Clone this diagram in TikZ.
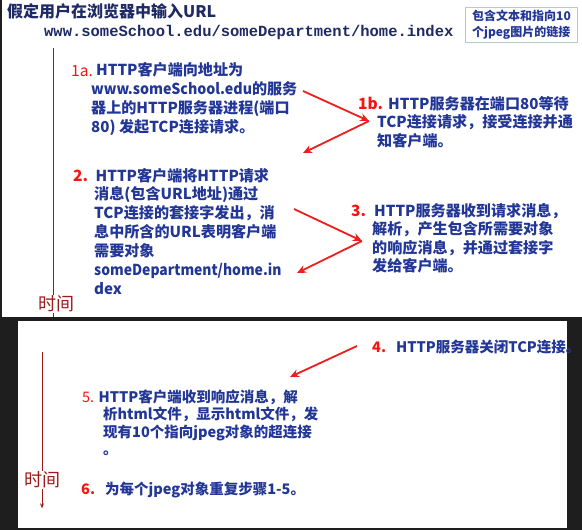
\documentclass[tikz,border=0pt]{standalone}
\usepackage{fontspec}
\setmainfont{Noto Sans CJK SC}
\newfontfamily\urlfont{Liberation Mono}
\usetikzlibrary{arrows.meta}

\definecolor{bgdark}{RGB}{30,30,30}
\definecolor{titleblue}{RGB}{30,42,100}
\definecolor{txtblue}{RGB}{34,54,150}
\definecolor{numred}{RGB}{250,18,18}
\definecolor{arrred}{RGB}{236,30,30}
\definecolor{timered}{RGB}{158,26,26}
\definecolor{boxteal}{RGB}{176,204,204}

% multi-line text nodes sit on the baseline of their last line
\tikzset{
  body/.style={anchor=base west, inner sep=0pt, align=left, text=txtblue,
    font=\bfseries\fontsize{15.1}{18.7}\selectfont},
  bodysm/.style={body, font=\bfseries\fontsize{14.5}{17.5}\selectfont},
  num/.style={anchor=base west, inner sep=0pt, text=numred,
    font=\bfseries\fontsize{15.5}{18.7}\selectfont},
  numlight/.style={num, font=\fontsize{15.5}{18.7}\selectfont},
  numsm/.style={num, font=\bfseries\fontsize{14.5}{17.5}\selectfont},
  numsmlight/.style={num, font=\fontsize{14.5}{17.5}\selectfont},
  flow/.style={draw=arrred, line width=1.8pt, -{Stealth[length=9pt,width=8pt]}},
  timeline/.style={draw=timered, line width=0.9pt},
  timelabel/.style={fill=white, text=timered, inner sep=1pt,
    font=\fontsize{18}{20}\selectfont},
}

\begin{document}
\begin{tikzpicture}[x=1pt,y=-1pt]
  \useasboundingbox (0,0) rectangle (582,530);
  \fill[bgdark] (0,0) rectangle (582,530);
  \fill[white] (2,0) rectangle (582,316.7);
  \fill[white] (17.5,320.7) rectangle (567,527.7);

  % header
  \node[anchor=base west, inner sep=0pt, text=titleblue,
    font=\bfseries\fontsize{16}{18}\selectfont] (title) at (7,17.5) {假定用户在浏览器中输入URL};
  \node[anchor=base west, inner sep=0pt, text=titleblue,
    font=\urlfont\bfseries\fontsize{15.5}{18}\selectfont] (url) at (44,36)
    {www.someSchool.edu/someDepartment/home.index};
  \node[draw=boxteal, line width=1.5pt, align=left, text=txtblue, inner sep=3pt,
    minimum width=112pt, minimum height=35pt,
    font=\bfseries\fontsize{12}{16}\selectfont] (page) at (521.5,25) {包含文本和指向10\\个jpeg图片的链接};

  % time axis, top
  \coordinate (t1top) at (53,48);
  \coordinate (t1bot) at (53,316.7);
  \draw[timeline] (t1top) -- (t1bot);
  \node[timelabel] (time1) at (56,304) {时间};

  \node[numlight] (n1a) at (71,76) {1a.};
  \node[body] (s1a) at (91,132) {\hspace*{5pt}HTTP客户端向地址为\\\scalebox{0.94}[1]{www.someSchool.edu}的服务\\器上的HTTP服务器进程(端口\\80) 发起TCP连接请求。};

  \node[num] (n1b) at (358,109) {1b.};
  \node[body] (s1b) at (377,146.4) {\hspace*{11pt}HTTP服务器在端口80等待\\TCP连接请求，接受连接并通\\知客户端。};

  \coordinate (a1) at (303,91);
  \coordinate (a2) at (369,121);
  \coordinate (a3) at (303,153);
  \draw[flow] (a1) -- (a2);
  \draw[flow] (a2) -- (a3);

  \node[num] (n2) at (73,181) {2.};
  \node[body, font=\bfseries\fontsize{15.1}{18.83}\selectfont] (s2) at (94,294)
    {\hspace*{1.5pt}HTTP客户端将HTTP请求\\消息(包含URL地址)通过\\TCP连接的套接字发出，消\\息中所含的URL表明客户端\\需要对象\\\scalebox{0.92}[1]{someDepartment/home.in}\\dex};

  \node[num] (n3) at (351,216) {3.};
  \node[body, font=\bfseries\fontsize{15.1}{18.6}\selectfont] (s3) at (372,271.8)
    {\hspace*{2pt}HTTP服务器收到请求消息，\\解析，产生包含所需要对象\\的响应消息，并通过套接字\\发给客户端。};

  \coordinate (b1) at (294,209);
  \coordinate (b2) at (362,241);
  \coordinate (b3) at (297,273);
  \draw[flow] (b1) -- (b2);
  \draw[flow] (b2) -- (b3);

  % time axis, bottom
  \coordinate (t2top) at (42,351.7);
  \coordinate (t2bot) at (42,508.3);
  \draw[timeline, -{Stealth[length=5pt,width=4pt]}] (t2top) -- (t2bot);
  \node[timelabel] (time2) at (42.8,480) {时间};

  \node[numsm] (n4) at (372,352.2) {4.};
  \node[bodysm] (s4) at (396,352.2) {HTTP服务器关闭TCP连接。};

  \coordinate (c1) at (357,346);
  \coordinate (c2) at (290,377);
  \draw[flow] (c1) -- (c2);

  \node[numsmlight] (n5) at (82,402.2) {5.};
  \node[bodysm] (s5) at (103,454.7) {\hspace*{-4.6pt}HTTP客户端收到响应消息，解\\析html文件，显示html文件，发\\现有10个指向jpeg对象的超连接\\。};

  \node[numsm] (n6) at (81,494.8) {6.};
  \node[bodysm] (s6) at (105,494.8) {为每个jpeg对象重复步骤1-5。};
\end{tikzpicture}
\end{document}
